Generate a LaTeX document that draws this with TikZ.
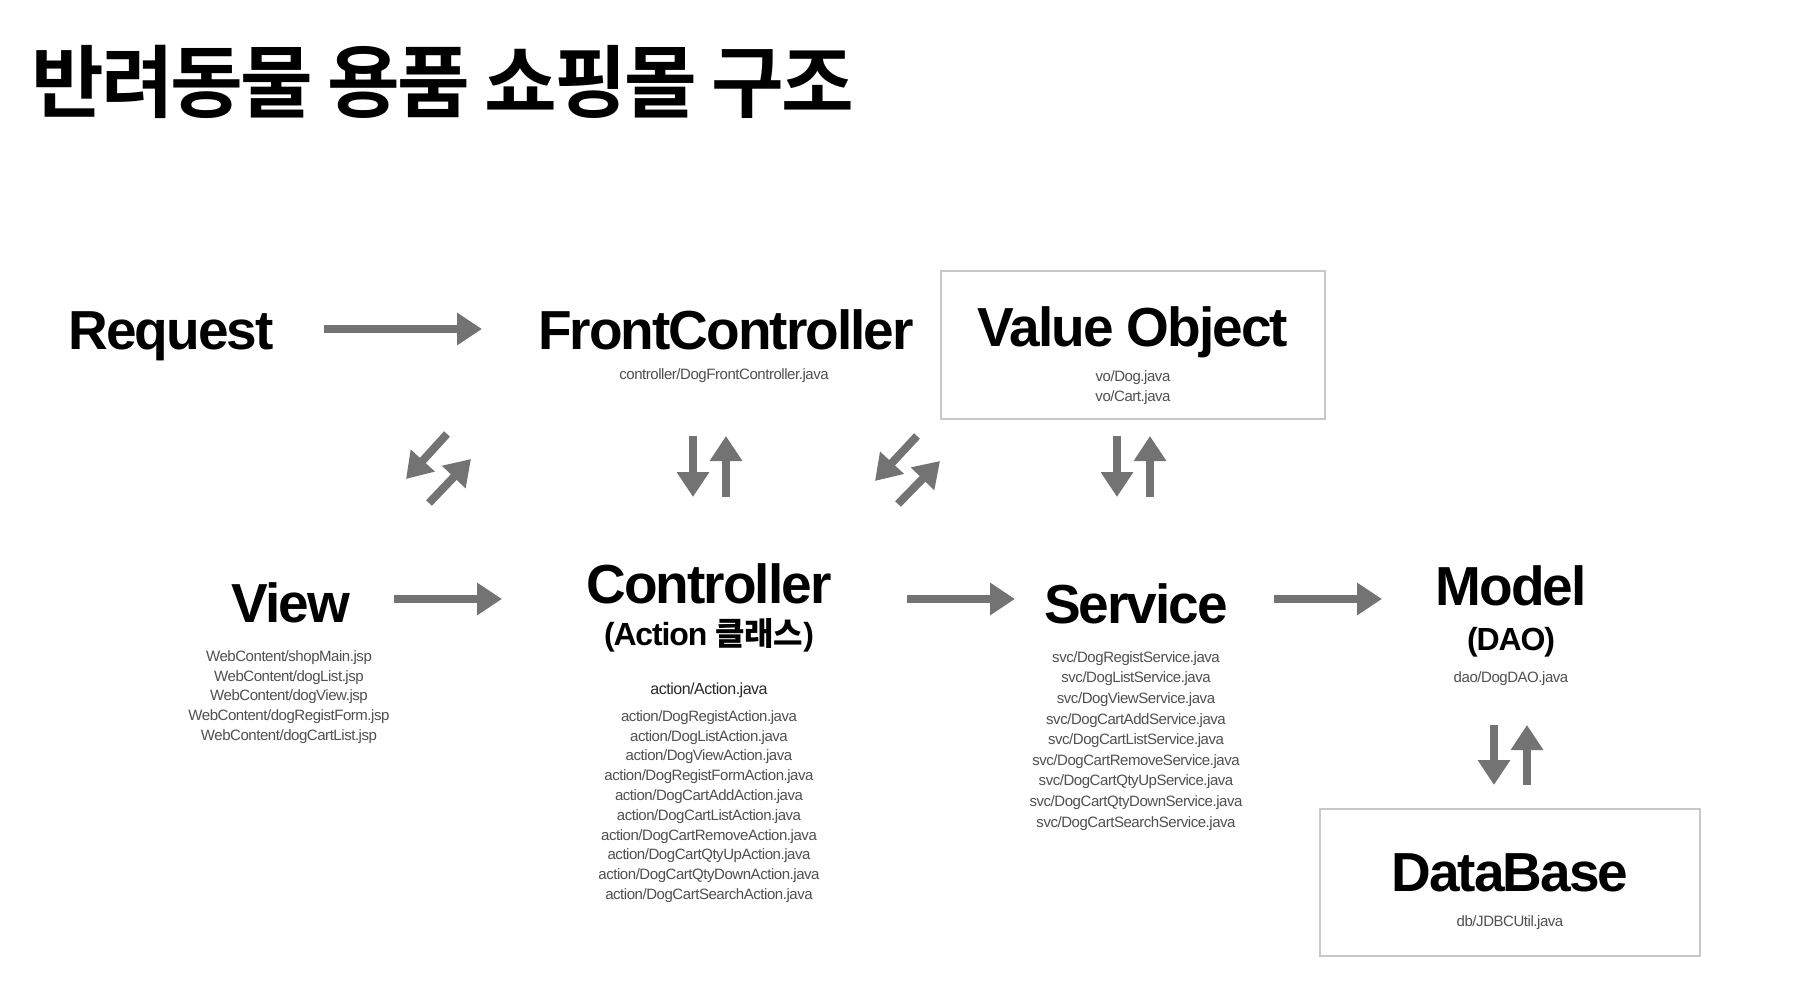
\documentclass[tikz,border=0pt]{standalone}
\usepackage{fontspec}
\setmainfont{Liberation Sans}
\newfontfamily\labelfont[LetterSpace=-3.6]{Liberation Sans}
\newfontfamily\filefont[LetterSpace=-3]{Liberation Sans}
\newfontfamily\korbold{Noto Sans CJK KR Bold}
\newfontfamily\titlefont[LetterSpace=-3.9]{Noto Sans CJK KR Bold}
\usetikzlibrary{arrows.meta}

\definecolor{arrowgray}{HTML}{737373}
\definecolor{boxgray}{HTML}{C8C8C8}
\definecolor{filegray}{HTML}{505050}
\definecolor{basegray}{HTML}{2A2A2A}

\begin{document}
\begin{tikzpicture}[
    x=0.5pt, y=-0.5pt,
    title/.style={font=\titlefont\fontsize{39.5}{42}\selectfont, anchor=base west, inner sep=0pt},
    layer/.style={font=\labelfont\bfseries\fontsize{27.5}{30}\selectfont, anchor=base, inner sep=0pt},
    sublayer/.style={font=\labelfont\bfseries\fontsize{16}{18}\selectfont, anchor=base, inner sep=0pt},
    files/.style={font=\filefont\fontsize{7.5}{9.9}\selectfont, text=filegray, align=center, anchor=north, inner sep=0pt},
    layerbox/.style={draw=boxgray, line width=1pt, inner sep=0pt},
    flow/.style={draw=arrowgray, line width=4pt, -{Triangle[length=12.5pt, width=15.5pt]}}
]
\useasboundingbox[fill=white] (0,0) rectangle (1800,1000);

\node[title] (title) at (31,112) {반려동물 용품 쇼핑몰 구조};

% boxed layers
\node[layerbox, minimum width=192pt, minimum height=74pt] (vo-box) at (1133,345) {};
\node[layerbox, minimum width=190pt, minimum height=73.5pt] (db-box) at (1510,882.5) {};

% top row
\node[layer] (request) at (171,350) {Request};
\node[layer] (front) at (726,350) {FrontController};
\node[files] (front-file) at (724,368) {controller/DogFrontController.java};
\node[layer] (vo) at (1133,347) {Value Object};
\node[files] (vo-files) at (1133,370) {vo/Dog.java\\vo/Cart.java};

% bottom row
\node[layer] (view) at (291,622) {View};
\node[files] (view-files) at (289,650) {WebContent/shopMain.jsp\\WebContent/dogList.jsp\\WebContent/dogView.jsp\\WebContent/dogRegistForm.jsp\\WebContent/dogCartList.jsp};
\node[layer] (controller) at (709,603) {Controller};
\node[sublayer] (controller-sub) at (709,645) {(Action {\korbold 클래스})};
\node[files, font=\filefont\fontsize{8}{10}\selectfont, text=basegray] (action-base) at (709,683) {action/Action.java};
\node[files] (action-files) at (709,710) {action/DogRegistAction.java\\action/DogListAction.java\\action/DogViewAction.java\\action/DogRegistFormAction.java\\action/DogCartAddAction.java\\action/DogCartListAction.java\\action/DogCartRemoveAction.java\\action/DogCartQtyUpAction.java\\action/DogCartQtyDownAction.java\\action/DogCartSearchAction.java};
\node[layer] (service) at (1136,623) {Service};
\node[files, font=\filefont\fontsize{7.5}{10.3}\selectfont] (service-files) at (1136,651) {svc/DogRegistService.java\\svc/DogListService.java\\svc/DogViewService.java\\svc/DogCartAddService.java\\svc/DogCartListService.java\\svc/DogCartRemoveService.java\\svc/DogCartQtyUpService.java\\svc/DogCartQtyDownService.java\\svc/DogCartSearchService.java};
\node[layer] (model) at (1511,605) {Model};
\node[sublayer] (model-sub) at (1511,650) {(DAO)};
\node[files] (model-file) at (1511,671) {dao/DogDAO.java};
\node[layer] (db) at (1510,891) {DataBase};
\node[files] (db-file) at (1510,915) {db/JDBCUtil.java};

% arrow ends
\coordinate (req-tail) at (324,329);  \coordinate (req-head) at (482,329);
\coordinate (view-tail) at (394,599); \coordinate (view-head) at (502,599);
\coordinate (ctrl-tail) at (907,599); \coordinate (ctrl-head) at (1015,599);
\coordinate (svc-tail) at (1274,599); \coordinate (svc-head) at (1382,599);
\coordinate (fv-tail) at (447,434);   \coordinate (fv-head) at (406,479);
\coordinate (vf-tail) at (429,503);   \coordinate (vf-head) at (471,459);
\coordinate (vos-tail) at (917,436);  \coordinate (vos-head) at (875,481);
\coordinate (svo-tail) at (898,504);  \coordinate (svo-head) at (940,461);
\coordinate (fc-tail) at (693,436);   \coordinate (fc-head) at (693,497);
\coordinate (cf-tail) at (726,497);   \coordinate (cf-head) at (726,436);
\coordinate (vs-tail) at (1117,436);  \coordinate (vs-head) at (1117,497);
\coordinate (sv-tail) at (1150,497);  \coordinate (sv-head) at (1150,436);
\coordinate (md-tail) at (1494,725);  \coordinate (md-head) at (1494,785);
\coordinate (dm-tail) at (1527,785);  \coordinate (dm-head) at (1527,725);

\foreach \a in {req, view, ctrl, svc, fv, vf, vos, svo, fc, cf, vs, sv, md, dm}
    \draw[flow] (\a-tail) -- (\a-head);

\end{tikzpicture}
\end{document}
